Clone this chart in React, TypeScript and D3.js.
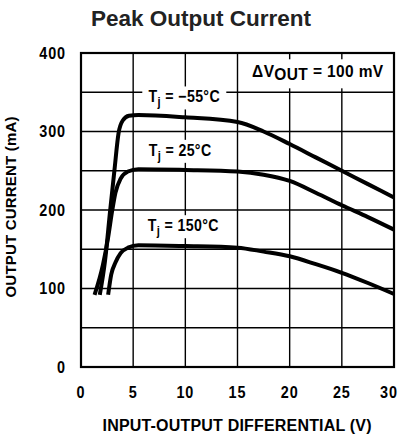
import * as d3 from "d3"

// values (V, mA)
const voltsMinus55 = [1.8, 2.3, 2.8, 3.2, 3.6, 4.0, 4.6, 5.5, 10, 15, 17.5, 20, 22.5, 25, 27.5, 30]
const currentMinus55 = [92, 135, 200, 250, 298, 314, 320, 321, 318, 312, 300, 284, 267, 250, 233, 216]

const volts25 = [1.3, 2.1, 2.6, 3.0, 3.3, 3.8, 4.5, 5.5, 10, 15, 17.5, 20, 22.5, 25, 27.5, 30]
const current25 = [92, 130, 165, 200, 222, 240, 249, 252, 251, 249, 245, 237, 222, 206, 191, 175]

const volts150 = [2.6, 2.9, 3.3, 3.8, 4.5, 5.5, 10, 15, 17.5, 20, 22.5, 25, 27.5, 30]
const current150 = [92, 118, 133, 145, 152, 155, 154, 152, 147, 141, 131, 120, 107, 93]

const xTicks = [0, 5, 10, 15, 20, 25, 30]
const yTicks = [0, 100, 200, 300, 400]
const yGrid = [50, 100, 150, 200, 250, 300, 350]

const curveLabels = ["−55°C", "25°C", "150°C"]
const labelVolts = [9.9, 9.5, 9.8]
const labelCurrent = [337, 269, 173]

const W = 402
const H = 440
const margin = { top: 53, right: 8, bottom: 73, left: 81 }
const FONT = "'Liberation Sans', Arial, sans-serif"

export default function App() {
  const x = d3.scaleLinear().domain([0, 30]).range([margin.left, W - margin.right])
  const y = d3.scaleLinear().domain([0, 400]).range([H - margin.bottom, margin.top])

  const line = d3
    .line<[number, number]>()
    .x((d) => x(d[0]))
    .y((d) => y(d[1]))
    .curve(d3.curveMonotoneX)

  const series = [
    volts25.map((v, i) => [v, current25[i]] as [number, number]),
    voltsMinus55.map((v, i) => [v, currentMinus55[i]] as [number, number]),
    volts150.map((v, i) => [v, current150[i]] as [number, number]),
  ]

  const textStyle = { fontFamily: FONT, fontWeight: 700 }

  return (
    <svg width={W} height={H} style={{ position: "absolute", left: 0, top: 0, background: "#fff" }}>
      <text x={201} y={26} textAnchor="middle" fontFamily={FONT} fontWeight={700} fontSize={22.5} fill="#222">
        Peak Output Current
      </text>

      {/* grid */}
      {xTicks.map((t) => (
        <line key={"gx" + t} x1={x(t)} x2={x(t)} y1={y(0)} y2={y(400)} stroke="#000" strokeWidth={1.4} />
      ))}
      {yGrid.map((t) => (
        <line key={"gy" + t} x1={x(0)} x2={x(30)} y1={y(t)} y2={y(t)} stroke="#000" strokeWidth={1.4} />
      ))}

      {/* curve labels on white boxes */}
      {curveLabels.map((lab, i) => (
        <g key={lab}>
          <rect x={x(labelVolts[i]) - 42} y={y(labelCurrent[i]) - 16} width={84} height={23} fill="#fff" />
          <g transform={`translate(${x(labelVolts[i])},${y(labelCurrent[i])}) scale(0.86,1)`}>
            <text textAnchor="middle" fontSize={16.5} letterSpacing={0.4} {...textStyle}>
              T<tspan fontSize={13} dy={4}>j</tspan>
              <tspan dy={-4}> = {lab}</tspan>
            </text>
          </g>
        </g>
      ))}
      <rect x={x(15.5)} y={y(392)} width={x(29.8) - x(15.5)} height={y(355) - y(392)} fill="#fff" />
      <g transform={`translate(${x(22.7)},${y(369)}) scale(0.94,1)`}>
        <text textAnchor="middle" fontSize={16.5} letterSpacing={0.4} {...textStyle}>
          ΔV<tspan dy={3}>OUT</tspan>
          <tspan dy={-3}> = 100 mV</tspan>
        </text>
      </g>

      {/* curves */}
      {series.map((s, i) => (
        <path key={i} d={line(s) ?? ""} fill="none" stroke="#000" strokeWidth={4} strokeLinejoin="round" />
      ))}

      {/* frame */}
      <rect x={x(0)} y={y(400)} width={x(30) - x(0)} height={y(0) - y(400)} fill="none" stroke="#000" strokeWidth={2.2} />

      {/* ticks */}
      {xTicks.map((t) => (
        <g key={"tx" + t} transform={`translate(${t === 30 ? x(t) - 5 : x(t)},398) scale(0.9,1)`}>
          <text textAnchor="middle" fontSize={16} letterSpacing={1} {...textStyle}>
            {t}
          </text>
        </g>
      ))}
      {yTicks.map((t) => (
        <g key={"ty" + t} transform={`translate(66,${y(t) + 5.5}) scale(0.9,1)`}>
          <text textAnchor="end" fontSize={16} letterSpacing={1} {...textStyle}>
            {t}
          </text>
        </g>
      ))}

      <text x={237} y={431} textAnchor="middle" fontSize={16} textLength={269} lengthAdjust="spacing" {...textStyle}>
        INPUT-OUTPUT DIFFERENTIAL (V)
      </text>
      <text
        transform={`translate(15.5, ${207}) rotate(-90)`}
        textAnchor="middle"
        fontSize={15}
        textLength={181}
        lengthAdjust="spacing"
        {...textStyle}
      >
        OUTPUT CURRENT (mA)
      </text>
    </svg>
  )
}
